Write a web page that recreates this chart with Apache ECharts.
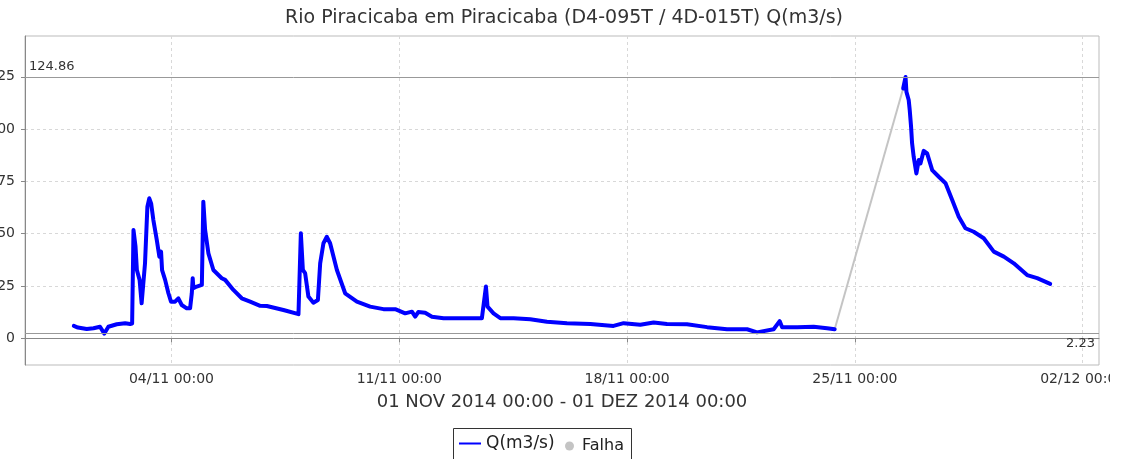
<!DOCTYPE html>
<html>
<head>
<meta charset="utf-8">
<script src="https://cdn.jsdelivr.net/npm/echarts@6/dist/echarts.min.js"></script>
<style>
  html, body { margin: 0; padding: 0; background: #fff; }
  #chart { width: 1128px; height: 459px; }
</style>
</head>
<body>
<div id="chart"></div>
<script>
// Vazão horária — Rio Piracicaba em Piracicaba, novembro de 2014
const qTimes = [
  '2014-11-01 00:00', '2014-11-01 03:00', '2014-11-01 09:30', '2014-11-01 14:30', '2014-11-01 19:20',
  '2014-11-01 22:30', '2014-11-02 01:30', '2014-11-02 07:40', '2014-11-02 13:50', '2014-11-02 17:30',
  '2014-11-02 19:00', '2014-11-02 20:00', '2014-11-02 21:30', '2014-11-02 22:30', '2014-11-03 00:30',
  '2014-11-03 02:00', '2014-11-03 03:00', '2014-11-03 04:30', '2014-11-03 06:15', '2014-11-03 07:40',
  '2014-11-03 09:00', '2014-11-03 10:40', '2014-11-03 13:10', '2014-11-03 15:05', '2014-11-03 16:20',
  '2014-11-03 17:05', '2014-11-03 19:20', '2014-11-03 21:45', '2014-11-03 23:40', '2014-11-04 02:40',
  '2014-11-04 05:05', '2014-11-04 07:35', '2014-11-04 11:15', '2014-11-04 13:45', '2014-11-04 15:00',
  '2014-11-04 15:40', '2014-11-04 16:10', '2014-11-04 18:40', '2014-11-04 22:25', '2014-11-04 23:30',
  '2014-11-05 00:50', '2014-11-05 03:15', '2014-11-05 06:55', '2014-11-05 13:05', '2014-11-05 13:55',
  '2014-11-05 15:35', '2014-11-05 21:40', '2014-11-06 03:50', '2014-11-06 10:00', '2014-11-06 17:25',
  '2014-11-06 22:20', '2014-11-07 10:35', '2014-11-07 21:40', '2014-11-07 23:25', '2014-11-08 00:55',
  '2014-11-08 02:35', '2014-11-08 05:00', '2014-11-08 08:40', '2014-11-08 12:00', '2014-11-08 13:40',
  '2014-11-08 16:05', '2014-11-08 18:35', '2014-11-08 21:00', '2014-11-09 02:00', '2014-11-09 08:05',
  '2014-11-09 16:45', '2014-11-10 02:30', '2014-11-10 12:20', '2014-11-10 21:00', '2014-11-11 04:20',
  '2014-11-11 09:20', '2014-11-11 11:45', '2014-11-11 14:00', '2014-11-11 19:05', '2014-11-12 00:05',
  '2014-11-12 08:40', '2014-11-12 23:25', '2014-11-13 12:55', '2014-11-13 15:55', '2014-11-13 17:05',
  '2014-11-13 21:30', '2014-11-14 02:30', '2014-11-14 12:20', '2014-11-15 00:35', '2014-11-15 12:55',
  '2014-11-16 03:40', '2014-11-16 20:55', '2014-11-17 14:00', '2014-11-17 21:25', '2014-11-18 09:45',
  '2014-11-18 19:35', '2014-11-19 05:25', '2014-11-19 20:10', '2014-11-20 11:00', '2014-11-21 01:40',
  '2014-11-21 16:30', '2014-11-21 23:50', '2014-11-22 12:05', '2014-11-22 16:30', '2014-11-22 18:20',
  '2014-11-23 05:25', '2014-11-23 17:35', '2014-11-24 03:30', '2014-11-24 09:05',
  '2014-11-25 10:00',
  '2014-11-26 11:35', '2014-11-26 13:20', '2014-11-26 14:00', '2014-11-26 15:40', '2014-11-26 16:25',
  '2014-11-26 17:25', '2014-11-26 18:10', '2014-11-26 19:20', '2014-11-26 21:20', '2014-11-26 23:05',
  '2014-11-27 00:20', '2014-11-27 02:45', '2014-11-27 05:15', '2014-11-27 09:00', '2014-11-27 13:50',
  '2014-11-27 18:50', '2014-11-27 23:45', '2014-11-28 04:35', '2014-11-28 09:30', '2014-11-28 15:35',
  '2014-11-28 23:00', '2014-11-29 06:25', '2014-11-29 13:50', '2014-11-29 21:10', '2014-11-30 07:00',
  '2014-11-30 14:25', '2014-12-01 00:00'
];
// null marks the failure period (no readings)
const qValues = [
  5.9, 5.1, 4.4, 4.8, 5.5,
  2.23, 5.5, 6.7, 7.2, 6.8,
  7.0, 51.7, 43.8, 32.6, 27.9,
  16.7, 15.9, 35.8, 62.9, 66.9,
  64.5, 56.5, 47.0, 39.0, 41.4,
  32.6, 27.9, 21.5, 17.5, 17.5,
  19.1, 15.9, 14.3, 14.3, 21.5,
  28.7, 23.9, 24.7, 25.5, 65.3,
  51.7, 40.6, 32.6, 28.7, 29.4,
  27.9, 23.1, 19.1, 17.5, 15.5,
  15.4, 13.5, 11.5, 50.2, 32.6,
  31.1, 19.9, 17.0, 18.3, 35.8,
  45.4, 48.5, 45.4, 32.6, 21.5,
  17.5, 15.1, 13.9, 13.9, 11.9,
  12.7, 10.3, 12.5, 12.2, 10.3,
  9.6, 9.6, 9.6, 24.7, 15.1,
  11.9, 9.6, 9.6, 9.1, 7.9,
  7.2, 6.8, 5.9, 7.2, 6.4,
  7.5, 6.8, 6.7, 5.3, 4.3,
  4.3, 2.8, 4.3, 8.2, 5.3,
  5.3, 5.5, 4.8, 4.3,
  null,
  119.4, 124.86, 117.8, 113.9, 109.1,
  101.1, 93.2, 86.8, 78.8, 85.2,
  83.6, 89.6, 88.4, 80.4, 77.2,
  74.1, 66.1, 58.1, 52.6, 50.9,
  47.8, 41.4, 39.0, 35.8, 30.2,
  28.7, 26.0
];

// Segment bridging the failure period
const falhaTimes = ['2014-11-24 09:05', '2014-11-26 11:35'];
const falhaValues = [4.3, 119.4];

const yTicks = [0, 25, 50, 75, 100, 125];
const xTicks = ['2014-11-04 00:00', '2014-11-11 00:00', '2014-11-18 00:00', '2014-11-25 00:00', '2014-12-02 00:00'];
const xStart = '2014-10-30 12:00';
const xEnd = '2014-12-02 12:00';
const markMax = 124.86;
const markMin = 2.23;

const FONT = 'DejaVu Sans';
const toTs = s => +new Date(s.replace(' ', 'T') + ':00');
const pad = n => String(n).padStart(2, '0');
const fmtTime = v => {
  const d = new Date(v);
  return pad(d.getDate()) + '/' + pad(d.getMonth() + 1) + ' ' + pad(d.getHours()) + ':' + pad(d.getMinutes());
};

const qData = qTimes.map((t, i) => [toTs(t), qValues[i] === null ? '-' : qValues[i]]);
const falhaData = falhaTimes.map((t, i) => [toTs(t), falhaValues[i]]);
const xTickTs = xTicks.map(toTs);

const chart = echarts.init(document.getElementById('chart'), null, { renderer: 'canvas' });

chart.setOption({
  animation: false,
  backgroundColor: '#ffffff',
  title: {
    text: 'Rio Piracicaba em Piracicaba (D4-095T / 4D-015T) Q(m3/s)',
    left: 'center',
    top: 9,
    padding: 0,
    textStyle: { fontFamily: FONT, fontSize: 19, fontWeight: 'normal', color: '#333' }
  },
  grid: {
    left: 25, top: 36, right: 29, bottom: 94,
    outerBoundsMode: 'none',
    containLabel: false,
    show: true, borderColor: '#bbb', borderWidth: 1, backgroundColor: '#fff'
  },
  legend: [
    {
      data: [{ name: 'Q(m3/s)', icon: 'path://M0 0H22V2H0Z' }],
      left: 459, top: 435,
      padding: 0,
      itemWidth: 22, itemHeight: 16,
      textStyle: { fontFamily: FONT, fontSize: 17, color: '#222' }
    },
    {
      data: [{ name: 'Falha', icon: 'circle' }],
      left: 565, top: 438,
      padding: 0,
      itemWidth: 9, itemHeight: 9,
      textStyle: { fontFamily: FONT, fontSize: 16, color: '#222', padding: [0, 0, 0, 3] }
    }
  ],
  graphic: [
    {
      type: 'rect', left: 453, top: 428, z: 0,
      shape: { width: 178, height: 40 },
      style: { fill: '#fff', stroke: '#333', lineWidth: 1 }
    },
    {
      type: 'rect', left: 1110, top: 368, z: 100,
      shape: { width: 18, height: 24 },
      style: { fill: '#fff' }
    }
  ],
  xAxis: {
    type: 'value',
    min: toTs(xStart),
    max: toTs(xEnd),
    name: '01 NOV 2014 00:00 - 01 DEZ 2014 00:00',
    nameLocation: 'middle',
    nameGap: 28,
    nameTextStyle: { fontFamily: FONT, fontSize: 18, color: '#333' },
    axisLine: { lineStyle: { color: '#888', width: 1 } },
    axisTick: { show: true, length: 4, inside: false, customValues: xTickTs, lineStyle: { color: '#888' } },
    axisLabel: {
      customValues: xTickTs,
      margin: 7,
      fontFamily: FONT, fontSize: 14, color: '#333',
      formatter: fmtTime
    },
    splitLine: { show: true, lineStyle: { color: '#d8d8d8', type: [3, 3], width: 1 } }
  },
  yAxis: {
    type: 'value',
    min: -12.8,
    max: 144.5,
    axisLine: { show: true, lineStyle: { color: '#888', width: 1 } },
    axisTick: { show: true, length: 4, customValues: yTicks, lineStyle: { color: '#888' } },
    axisLabel: {
      customValues: yTicks,
      margin: 10,
      fontFamily: FONT, fontSize: 14, color: '#333'
    },
    splitLine: { show: true, lineStyle: { color: '#d8d8d8', type: [3, 3], width: 1 } }
  },
  series: [
    {
      name: 'Falha',
      type: 'line',
      data: falhaData,
      showSymbol: false,
      color: '#c4c4c4',
      lineStyle: { color: '#c4c4c4', width: 2 },
      z: 1
    },
    {
      name: 'Q(m3/s)',
      type: 'line',
      data: qData,
      showSymbol: false,
      connectNulls: false,
      color: '#0000ff',
      lineStyle: { color: '#0000ff', width: 4, join: 'round', cap: 'round' },
      z: 3,
      markLine: {
        silent: true,
        symbol: ['none', 'none'],
        lineStyle: { color: '#999', type: 'solid', width: 1 },
        label: { fontFamily: FONT, fontSize: 13, color: '#333', formatter: '{c}' },
        data: [
          { yAxis: markMax, label: { position: 'insideStartTop', distance: 4 } },
          { yAxis: markMin, label: { position: 'insideEndBottom', distance: 4 } }
        ]
      }
    }
  ]
});
</script>
</body>
</html>
